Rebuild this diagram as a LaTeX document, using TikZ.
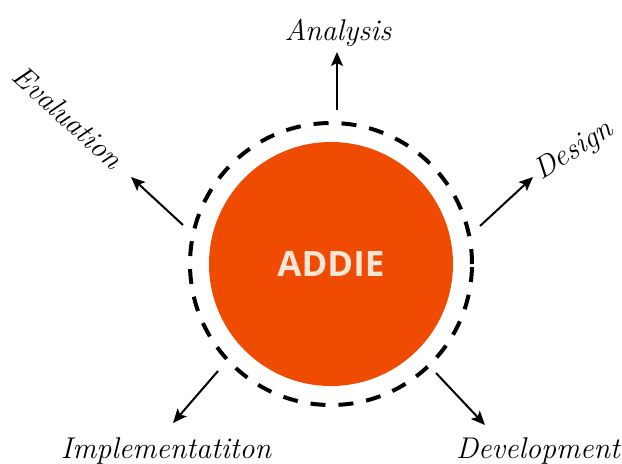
\documentclass[tikz,border=0pt]{standalone}
\usepackage{fontspec}
\newfontfamily\addiefont{Open Sans}
\usepackage{tikz}
\usetikzlibrary{calc,arrows.meta}

\definecolor{addieorange}{RGB}{240,75,2}
\definecolor{addiecream}{RGB}{248,230,214}

\begin{document}
\begin{tikzpicture}[x=0.5pt,y=-0.5pt,inner sep=0pt,outer sep=0pt,
    every node/.style={font=\fontsize{15}{18}\selectfont\itshape},
    phase/.style={-{Stealth[length=7pt,width=6pt,inset=1.5pt]},line width=1pt}]
    \useasboundingbox (0,0) rectangle (622,463);

    % core circle
    \node[circle, fill=addieorange, minimum size=122pt,
    font=\addiefont\bfseries\upshape\fontsize{17.5}{20}\selectfont,
    text=addiecream] (addie) at (331,264) {ADDIE};

    % dashed ring
    \node[circle, draw, line width=2pt, dash pattern=on 7.5pt off 6.5pt,
    minimum size=141pt] (ring) at (addie.center) {};

    % phase labels
    \node[anchor=base] (analysis) at (338,40) {Analysis};
    \node[rotate=32] (design) at (574,151) {Design};
    \node[anchor=base] (development) at (538,458) {Development};
    \node[anchor=base] (implementation) at (166,458) {Implementatiton};
    \node[rotate=-42] (evaluation) at (68,117) {Evaluation};

    % arrow ends
    \coordinate (analysis_from) at (337,110);
    \coordinate (analysis_to) at (337,52);
    \coordinate (design_from) at (480,226);
    \coordinate (design_to) at (533,177);
    \coordinate (development_from) at (436,373);
    \coordinate (development_to) at (485,425);
    \coordinate (implementation_from) at (218,371);
    \coordinate (implementation_to) at (173,423);
    \coordinate (evaluation_from) at (183,225);
    \coordinate (evaluation_to) at (131,177);

    % arrows
    \draw[phase] (analysis_from) -- (analysis_to);
    \draw[phase] (design_from) -- (design_to);
    \draw[phase] (development_from) -- (development_to);
    \draw[phase] (implementation_from) -- (implementation_to);
    \draw[phase] (evaluation_from) -- (evaluation_to);

\end{tikzpicture}
\end{document}
